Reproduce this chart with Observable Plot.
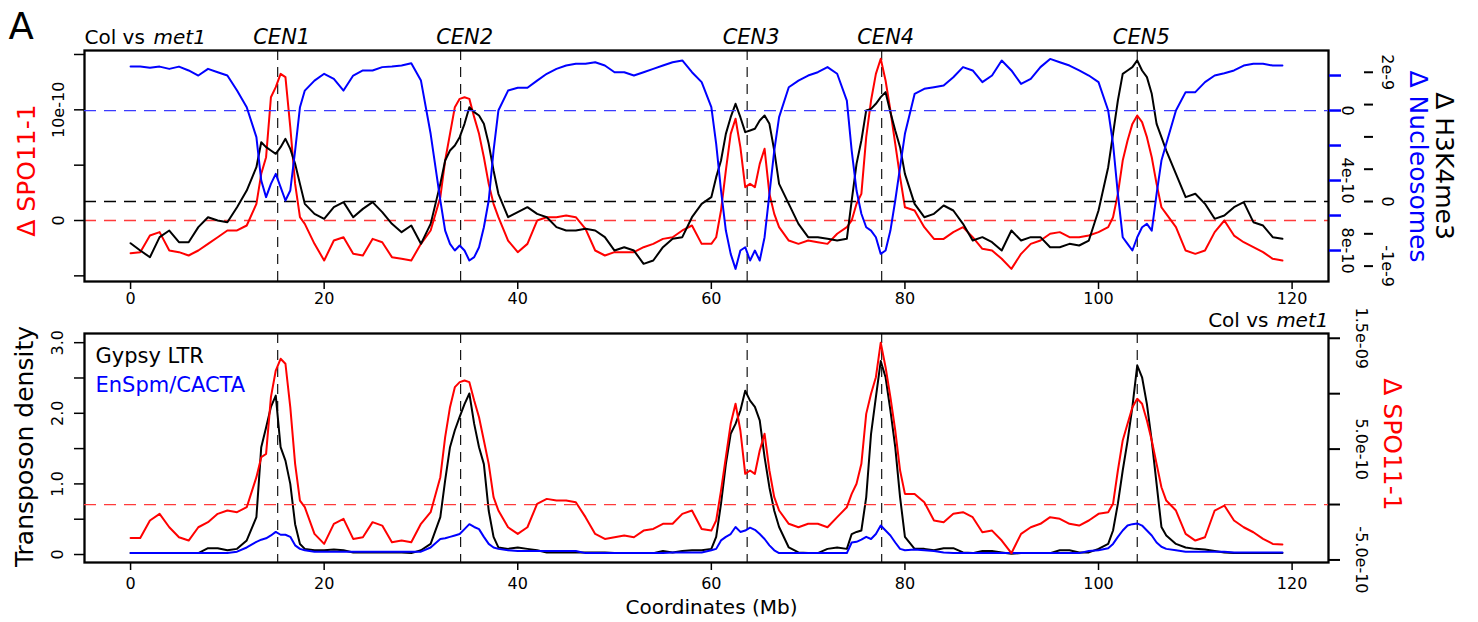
<!DOCTYPE html>
<html><head><meta charset="utf-8">
<script src="https://cdn.jsdelivr.net/npm/d3@7"></script>
<script src="https://cdn.jsdelivr.net/npm/@observablehq/plot@0.6"></script>
<style>
body{margin:0;background:#fff;}
#chart{position:relative;width:1478px;height:622px;background:#fff;overflow:hidden;}
#chart svg{position:absolute;left:0;}
</style></head><body><div id="chart"></div>
<script>
// Genome coordinate (Mb) of every sample
const mb = [
  0,1,2,3,4,5,6,7,8,9,10,11,12,
  13,13.5,14,14.5,15,15.5,16,16.5,17,17.5,
  18,19,20,21,22,23,24,25,26,27,28,29,30,31,32,
  32.5,33,33.5,34,34.5,35,35.5,36,36.5,37,37.5,
  38,39,40,41,42,43,44,45,46,47,48,49,50,51,52,53,54,55,56,57,58,59,60,
  60.5,61,61.5,62,62.5,63,63.5,64,64.5,65,65.5,66,66.5,
  67,68,69,70,71,72,73,74,
  74.5,75,75.5,76,76.5,77,77.5,78,78.5,79,79.5,
  80,81,82,83,84,85,86,87,88,89,90,91,92,93,94,95,96,97,98,99,100,101,
  101.5,102,102.5,103,103.5,104,104.5,105,105.5,106,106.5,
  107,108,109,110,111,112,113,114,115,116,117,118,119
];
// Top panel: Delta SPO11-1 (units of 1e-10)
const spoTop = [
  -2.95,-2.86,-1.36,-1.05,-2.71,-2.86,-3.16,-2.71,-2.11,-1.51,-0.90,-0.90,-0.45,
  1.51,4.22,5.72,11.14,12.05,13.25,12.95,8.43,3.31,0.30,
  -0.30,-2.11,-3.61,-1.81,-1.51,-3.01,-3.16,-1.66,-1.96,-3.31,-3.46,-3.61,-2.11,-0.90,2.11,
  5.42,7.83,10.24,10.99,11.14,10.99,9.34,7.83,5.72,3.31,1.51,
  0.30,-1.81,-2.86,-2.11,0,0.30,0.30,0.45,0.30,-0.75,-2.71,-3.16,-2.86,-2.86,-2.86,-2.41,-2.11,-1.66,-1.51,-0.90,-0.45,-2.11,-2.11,
  -1.51,0.90,4.52,7.83,9.19,6.63,3.01,3.31,3.01,5.12,6.48,2.41,0.60,
  -0.60,-1.81,-2.11,-1.81,-1.96,-2.11,-1.20,-0.60,
  0,1.51,2.41,7.53,10.84,13.25,14.61,12.65,9.94,6.93,3.92,
  1.20,0.90,-0.60,-1.66,-1.66,-1.05,-0.60,-1.51,-2.56,-2.71,-3.46,-4.37,-3.01,-2.11,-1.81,-1.20,-1.05,-1.51,-1.51,-1.36,-1.05,-0.60,
  0.30,2.41,5.42,7.23,8.73,9.49,8.89,7.53,5.72,3.31,1.20,
  0.60,-0.60,-2.71,-3.01,-2.71,-1.05,0,-1.36,-1.96,-2.41,-2.86,-3.46,-3.61
];
// Top panel: Delta H3K4me3 (units of 1e-10)
const h3k4me3 = [
  -6.45,-7.59,-8.62,-5.52,-4.49,-6.30,-6.30,-3.97,-2.43,-2.94,-3.20,-0.88,1.70,
  5.31,9.18,8.41,7.89,7.38,8.41,9.70,8.15,5.83,2.73,
  -0.36,-1.91,-2.68,-0.88,-0.10,-2.43,-1.14,-0.10,-1.65,-3.46,-4.75,-3.72,-6.55,-3.46,2.73,
  6.35,7.89,8.67,9.96,12.02,14.60,13.83,13.31,12.02,8.93,4.80,
  1.19,-2.43,-1.65,-0.88,-1.91,-2.43,-3.97,-4.49,-4.49,-4.23,-4.49,-5.52,-7.59,-7.07,-7.59,-9.65,-9.13,-7.07,-5.78,-5.52,-2.43,-0.36,0.67,
  3.77,6.35,10.47,13.05,15.12,13.05,10.73,10.99,11.25,12.54,13.31,12.02,7.89,
  2.73,-0.36,-3.46,-5.52,-5.52,-5.78,-6.04,-5.78,
  0.15,5.83,9.44,14.09,14.34,15.12,16.15,16.92,13.83,10.99,8.41,
  4.28,-0.36,-2.43,-1.91,-0.62,-1.39,-3.46,-6.04,-5.52,-6.30,-7.59,-4.49,-6.04,-5.52,-5.52,-7.07,-7.07,-6.55,-6.81,-6.04,-1.39,5.31,
  10.47,15.63,19.76,20.28,20.79,21.83,20.28,19.25,16.67,12.02,9.96,
  7.89,4.28,0.67,1.19,-0.36,-2.68,-2.17,-0.88,-0.10,-3.20,-3.72,-5.52,-5.78
];
// Top panel: Delta nucleosomes (units of 1e-10, axis reversed)
const nucleosomes = [
  -2.51,-2.51,-2.44,-2.51,-2.38,-2.51,-2.29,-2.00,-2.38,-2.19,-2.00,-1.14,-0.19,
  1.52,4.00,4.95,4.19,3.62,4.38,5.14,4.57,2.29,-0.19,
  -1.14,-1.71,-2.10,-1.81,-1.14,-2.00,-2.29,-2.29,-2.48,-2.51,-2.57,-2.70,-1.71,1.33,5.14,
  6.86,7.62,8.00,7.71,8.00,8.57,8.38,7.81,6.67,5.14,2.29,
  0,-1.14,-1.30,-1.30,-1.71,-2.10,-2.38,-2.57,-2.67,-2.67,-2.76,-2.57,-2.19,-2.19,-2.00,-2.19,-2.38,-2.57,-2.76,-2.86,-2.19,-1.62,-0.19,
  1.90,4.57,6.86,8.19,9.05,8.00,7.81,8.57,8.00,8.57,7.24,4.76,2.29,
  0.38,-1.33,-1.71,-2.00,-2.19,-2.48,-2.10,-0.57,
  2.29,4.57,5.90,6.67,6.86,7.24,8.19,8.00,6.86,5.14,3.24,
  1.33,-0.95,-1.24,-1.33,-1.43,-1.90,-2.48,-2.29,-1.62,-2.00,-2.86,-2.29,-1.52,-1.81,-2.48,-2.95,-2.76,-2.57,-2.29,-2.00,-1.62,0,
  1.90,4.76,7.24,7.62,8.00,7.24,6.67,6.48,6.86,4.76,2.86,
  1.90,0,-1.05,-1.05,-1.62,-2.00,-2.13,-2.29,-2.57,-2.67,-2.67,-2.57,-2.57
];
// Bottom panel: Gypsy LTR density
const gypsy = [
  0.02,0.02,0.02,0.02,0.02,0.02,0.02,0.02,0.09,0.09,0.06,0.08,0.20,
  0.53,1.52,1.80,2.09,2.25,1.52,1.33,1.00,0.43,0.15,
  0.08,0.06,0.06,0.07,0.06,0.03,0.03,0.03,0.03,0.03,0.03,0.02,0.06,0.15,0.53,
  1.05,1.52,1.76,1.95,2.13,2.28,1.85,1.52,1.28,0.62,0.25,
  0.10,0.08,0.10,0.08,0.06,0.03,0.03,0.03,0.03,0.03,0.03,0.03,0.02,0.02,0.02,0.02,0.02,0.05,0.03,0.05,0.06,0.06,0.08,
  0.25,0.72,1.28,1.71,1.85,2.04,2.32,2.18,2.09,1.90,1.38,0.95,0.62,
  0.39,0.10,0.03,0.02,0.02,0.08,0.10,0.08,
  0.29,0.32,0.34,0.81,1.71,2.23,2.74,2.51,2.04,1.52,0.81,
  0.25,0.08,0.08,0.06,0.09,0.09,0.03,0.02,0.05,0.05,0.03,0.01,0.02,0.02,0.02,0.02,0.06,0.06,0.03,0.03,0.08,0.15,
  0.34,0.72,1.19,1.61,2.09,2.68,2.51,2.13,1.61,1.00,0.39,
  0.27,0.15,0.10,0.08,0.07,0.05,0.03,0.02,0.02,0.02,0.02,0.02,0.02
];
// Bottom panel: EnSpm/CACTA density
const cacta = [
  0.02,0.02,0.02,0.02,0.02,0.02,0.02,0.02,0.02,0.02,0.02,0.04,0.10,
  0.18,0.21,0.23,0.27,0.32,0.28,0.28,0.25,0.13,0.08,
  0.06,0.04,0.04,0.04,0.04,0.04,0.04,0.04,0.04,0.04,0.04,0.04,0.04,0.10,0.22,
  0.23,0.25,0.27,0.29,0.36,0.43,0.39,0.36,0.25,0.15,0.10,
  0.08,0.06,0.05,0.05,0.05,0.05,0.05,0.05,0.05,0.02,0.02,0.02,0.02,0.02,0.02,0.02,0.02,0.02,0.03,0.03,0.03,0.03,0.06,
  0.08,0.20,0.25,0.29,0.39,0.32,0.34,0.38,0.35,0.29,0.22,0.13,0.06,
  0.02,0.02,0.02,0.02,0.02,0.02,0.02,0.02,
  0.17,0.18,0.21,0.25,0.22,0.29,0.41,0.34,0.27,0.17,0.08,
  0.06,0.07,0.06,0.05,0.03,0.02,0.02,0.02,0.02,0.02,0.02,0.02,0.02,0.02,0.02,0.02,0.02,0.02,0.02,0.05,0.06,0.09,
  0.15,0.25,0.34,0.41,0.43,0.44,0.41,0.34,0.27,0.17,0.11,
  0.08,0.06,0.04,0.04,0.04,0.04,0.04,0.03,0.03,0.03,0.03,0.03,0.03
];
// Bottom panel: Delta SPO11-1 (units of 1e-10)
const spoBottom = [
  -3.01,-3.01,-1.44,-0.84,-2.05,-2.95,-3.25,-2.05,-1.59,-0.84,-0.54,-0.69,-0.24,
  2.47,4.27,4.57,9.69,12.09,13.15,12.70,8.78,3.67,0.36,
  -0.24,-2.65,-3.55,-1.74,-1.29,-3.10,-2.95,-1.59,-1.90,-3.40,-3.25,-3.40,-1.74,-0.69,2.47,
  6.08,8.78,10.59,11.04,11.19,11.04,9.39,7.88,5.78,3.67,0.66,
  -0.54,-2.05,-2.65,-2.05,0.06,0.51,0.36,0.36,0.21,-1.14,-2.65,-3.10,-2.95,-2.80,-2.95,-2.35,-2.20,-1.74,-1.74,-0.84,-0.54,-2.20,-2.35,
  -1.44,1.26,4.27,7.28,9.09,6.68,2.77,3.07,2.77,4.87,6.38,3.07,0.66,
  -0.54,-1.74,-2.05,-1.74,-1.74,-2.05,-1.14,-0.24,
  0.96,1.87,3.67,8.18,9.99,11.49,14.60,12.39,9.69,6.68,3.07,
  0.96,0.96,0.21,-1.44,-1.59,-0.84,-0.69,-1.14,-2.50,-2.35,-3.25,-4.39,-2.65,-2.05,-1.74,-1.14,-1.29,-1.74,-1.90,-1.44,-0.84,-0.69,
  0.06,3.07,5.78,7.28,8.78,9.54,9.09,7.58,5.78,3.67,1.56,
  0.36,-0.54,-2.65,-3.25,-2.95,-0.54,-0.09,-1.44,-2.05,-2.50,-3.10,-3.55,-3.61
];
// Centromeres
const cenNames = ["CEN1","CEN2","CEN3","CEN4","CEN5"];
const cenMb = [15.2, 34.1, 63.7, 77.6, 104.0];
// Axis ticks and tick labels
const xTicks = [0,20,40,60,80,100,120];
const spoTopTicks = [-5,0,5,10,15];
const spoTopTickLabels = ["","0","","10e-10",""];
const h3Ticks = [-10,-5,0,5,10,15,20];
const h3TickLabels = ["-1e-9","","0","","","","2e-9"];
const nucTicks = [-2,0,2,4,6,8];
const nucTickLabels = ["","0","","4e-10","","8e-10"];
const densTicks = [0,0.5,1,1.5,2,2.5,3];
const densTickLabels = ["0","","1.0","","2.0","","3.0"];
const spoBotTicks = [-5,0,5,10,15];
const spoBotTickLabels = ["-5.0e-10","","5.0e-10","","1.5e-09"];

const rows = ys => mb.map((x, i) => ({x, y: ys[i]}));
const fmt = (ticks, labels) => d => { const i = ticks.indexOf(d); return i < 0 ? "" : labels[i]; };
const cens = cenNames.map((name, i) => ({name, x: cenMb[i]}));

const W = 1478, ML = 84, MR = 150;
const xDomain = [-4.76, 123.76];
const style = {background: "transparent", fontFamily: "DejaVu Sans", fontSize: "16px", overflow: "visible"};
const topDims = {width: W, height: 310, marginTop: 50, marginBottom: 29, marginLeft: ML, marginRight: MR, style};
const botDims = {width: W, height: 312, marginTop: 23, marginBottom: 60, marginLeft: ML, marginRight: MR, style};
const dash = "12,8";
const TF = 16; // tick label font size
const chart = document.getElementById("chart");
function add(svg, top) { svg.style.top = top + "px"; chart.appendChild(svg); }

// ---------- top panel ----------
add(Plot.plot({...topDims,
  x: {domain: xDomain},
  y: {domain: [-5.51, 15.36]},
  marks: [
    Plot.ruleY([0], {stroke: "#ff3b3b", strokeDasharray: dash, strokeWidth: 1.3}),
    Plot.ruleX(cenMb, {stroke: "black", strokeDasharray: "10,7", strokeWidth: 1.1}),
    Plot.axisX({ticks: xTicks, tickSize: 8, tickPadding: 3, strokeWidth: 1.5, fontSize: TF, label: null}),
    Plot.axisY({ticks: spoTopTicks, tickFormat: fmt(spoTopTicks, spoTopTickLabels), tickSize: 10, tickPadding: 10.5,
      tickRotate: -90, textAnchor: "middle", lineAnchor: "bottom", strokeWidth: 1.5, fontSize: TF, label: null}),
    Plot.line(rows(spoTop), {x: "x", y: "y", stroke: "#ff0000", strokeWidth: 2}),
    Plot.frame({strokeWidth: 2.3}),
    Plot.text(["Δ SPO11-1"], {text: d => d, frameAnchor: "left", dx: -58, dy: 4.5, rotate: -90, fill: "#ff0000", fontSize: 25, textAnchor: "middle", lineAnchor: "middle"}),
    Plot.text(["A"], {text: d => d, frameAnchor: "top-left", dx: -76, dy: -12, fontSize: 37, textAnchor: "start", lineAnchor: "bottom"}),
    Plot.text(["Col vs"], {text: d => d, frameAnchor: "top-left", dx: 0, dy: -7, fontSize: 20, textAnchor: "start", lineAnchor: "bottom"}),
    Plot.text(["met1"], {text: d => d, frameAnchor: "top-left", dx: 69, dy: -7, fontSize: 20, fontStyle: "italic", textAnchor: "start", lineAnchor: "bottom"}),
    Plot.text(cens, {x: "x", text: "name", frameAnchor: "top", dx: 4, dy: -7, fontSize: 21, fontStyle: "italic", lineAnchor: "bottom"})
  ]
}), 0);

add(Plot.plot({...topDims,
  x: {domain: xDomain, axis: null},
  y: {domain: [-12.38, 23.37]},
  marks: [
    Plot.ruleY([0], {stroke: "black", strokeDasharray: dash, strokeWidth: 1.3}),
    Plot.axisY({anchor: "right", ticks: h3Ticks, tickFormat: fmt(h3Ticks, h3TickLabels), dx: 35, tickSize: 9, tickPadding: 9.5,
      tickRotate: 90, textAnchor: "middle", lineAnchor: "bottom", strokeWidth: 2, fontSize: TF, label: null}),
    Plot.line(rows(h3k4me3), {x: "x", y: "y", stroke: "black", strokeWidth: 2}),
    Plot.text(["Δ H3K4me3"], {text: d => d, frameAnchor: "right", dx: 115, dy: 0, rotate: 90, fill: "black", fontSize: 25, textAnchor: "middle", lineAnchor: "middle"})
  ]
}), 0);

add(Plot.plot({...topDims,
  x: {domain: xDomain, axis: null},
  y: {domain: [9.77, -3.43]},
  marks: [
    Plot.ruleY([0], {stroke: "#3b3bff", strokeDasharray: dash, strokeWidth: 1.3}),
    Plot.axisY({anchor: "right", ticks: nucTicks, tickFormat: fmt(nucTicks, nucTickLabels), tickSize: 12, tickPadding: 1.5,
      tickRotate: 90, textAnchor: "middle", lineAnchor: "bottom", stroke: "#0000ff", fill: "black", strokeWidth: 2.5, fontSize: TF, label: null}),
    Plot.line(rows(nucleosomes), {x: "x", y: "y", stroke: "#0000ff", strokeWidth: 2}),
    Plot.text(["Δ Nucleosomes"], {text: d => d, frameAnchor: "right", dx: 89, dy: 0.5, rotate: 90, fill: "#0000ff", fontSize: 25, textAnchor: "middle", lineAnchor: "middle"})
  ]
}), 0);

// ---------- bottom panel ----------
add(Plot.plot({...botDims,
  x: {domain: xDomain},
  y: {domain: [-0.113, 3.13]},
  marks: [
    Plot.ruleX(cenMb, {stroke: "black", strokeDasharray: "10,7", strokeWidth: 1.1}),
    Plot.axisX({ticks: xTicks, tickSize: 8, tickPadding: 7, strokeWidth: 1.5, fontSize: TF, label: null}),
    Plot.axisY({ticks: densTicks, tickFormat: fmt(densTicks, densTickLabels), tickSize: 10, tickPadding: 12,
      tickRotate: -90, textAnchor: "middle", lineAnchor: "bottom", strokeWidth: 1.5, fontSize: TF, label: null}),
    Plot.line(rows(gypsy), {x: "x", y: "y", stroke: "black", strokeWidth: 2}),
    Plot.line(rows(cacta), {x: "x", y: "y", stroke: "#0000ff", strokeWidth: 2}),
    Plot.frame({strokeWidth: 2.3}),
    Plot.text(["Transposon density"], {text: d => d, frameAnchor: "left", dx: -59.5, dy: -1.5, rotate: -90, fontSize: 25, textAnchor: "middle", lineAnchor: "middle"}),
    Plot.text(["Gypsy LTR"], {text: d => d, frameAnchor: "top-left", dx: 11, dy: 23, fontSize: 21, textAnchor: "start", lineAnchor: "middle"}),
    Plot.text(["EnSpm/CACTA"], {text: d => d, frameAnchor: "top-left", dx: 11, dy: 52, fill: "#0000ff", fontSize: 21, textAnchor: "start", lineAnchor: "middle"}),
    Plot.text(["met1"], {text: d => d, frameAnchor: "top-right", dx: 0, dy: -7, fontSize: 20, fontStyle: "italic", textAnchor: "end", lineAnchor: "bottom"}),
    Plot.text(["Col vs"], {text: d => d, frameAnchor: "top-right", dx: -60, dy: -7, fontSize: 20, textAnchor: "end", lineAnchor: "bottom"}),
    Plot.text(["Coordinates (Mb)"], {text: d => d, frameAnchor: "bottom", dx: 5, dy: 51, fontSize: 20, textAnchor: "middle", lineAnchor: "bottom"})
  ]
}), 310);

add(Plot.plot({...botDims,
  x: {domain: xDomain, axis: null},
  y: {domain: [-5.23, 15.43]},
  marks: [
    Plot.ruleY([0], {stroke: "#ff3b3b", strokeDasharray: dash, strokeWidth: 1.3}),
    Plot.axisY({anchor: "right", ticks: spoBotTicks, tickFormat: fmt(spoBotTicks, spoBotTickLabels), tickSize: 11, tickPadding: 16,
      tickRotate: 90, textAnchor: "middle", lineAnchor: "bottom", strokeWidth: 2, fontSize: TF, label: null}),
    Plot.line(rows(spoBottom), {x: "x", y: "y", stroke: "#ff0000", strokeWidth: 2}),
    Plot.text(["Δ SPO11-1"], {text: d => d, frameAnchor: "right", dx: 63, dy: -3.5, rotate: 90, fill: "#ff0000", fontSize: 25, textAnchor: "middle", lineAnchor: "middle"})
  ]
}), 310);
</script></body></html>
